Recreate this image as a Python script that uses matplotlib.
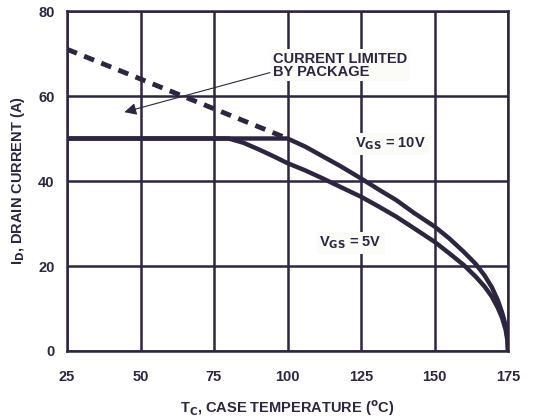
import matplotlib
matplotlib.use('Agg')
import matplotlib.pyplot as plt

# data
t_10v = [25, 50, 75, 100, 106, 112, 118, 125, 131, 137, 143, 150, 155, 160,
         164, 167, 169.5, 171.5, 173, 174.2, 174.8, 175]
i_10v = [50, 50, 50, 50, 48.1, 45.8, 43.5, 40.6, 38, 35.5, 32.5, 29.3, 26.5, 23.3,
         20.5, 17.8, 15, 12, 9, 6, 3, 0]
t_5v = [25, 50, 80, 85, 90, 95, 100, 106, 112, 118, 125, 131, 137, 143, 150, 155,
        160, 164, 167, 169.5, 171.5, 173, 174.2, 174.8, 175]
i_5v = [50, 50, 50, 49, 47.5, 45.9, 44.2, 42.5, 40.6, 38.6, 36.3, 34, 31.6, 28.9,
        25.7, 23, 20.2, 17.5, 15.2, 12.8, 10.2, 7.8, 5, 2.5, 0]
t_pkg = [25, 100]
i_pkg = [71, 50]

xticks = [25, 50, 75, 100, 125, 150, 175]
yticks = [0, 20, 40, 60, 80]

col = '#2e2540'
plt.rcParams['font.family'] = ['Liberation Sans', 'DejaVu Sans']
plt.rcParams['font.weight'] = 'bold'

fig = plt.figure(figsize=(5.55, 4.19), dpi=100)
ax = fig.add_axes([67/555, 1-351/419, 441/555, 340/419])

ax.plot(t_pkg, i_pkg, color=col, lw=3.5, dashes=(2.2, 1.6), solid_capstyle='butt')
ax.plot(t_10v, i_10v, color=col, lw=3.2, solid_capstyle='butt')
ax.plot(t_5v, i_5v, color=col, lw=3.2, solid_capstyle='butt')

ax.set_xlim(25, 175)
ax.set_ylim(0, 80)
ax.set_xticks(xticks)
ax.set_yticks(yticks)
ax.grid(True, color=col, lw=1.8)
for s in ax.spines.values():
    s.set_color(col)
    s.set_linewidth(1.8)
ax.tick_params(length=0, pad=9, labelsize=10.5, colors=col)
for lbl in ax.get_xticklabels() + ax.get_yticklabels():
    lbl.set_fontweight('bold')
ax.tick_params(axis='x', pad=14)

box = dict(facecolor='#fbfbf7', edgecolor='none', pad=2)
ax.text(95, 67.2, 'CURRENT LIMITED\nBY PACKAGE', fontsize=10.5, fontweight='bold',
        color=col, va='center', ha='left', linespacing=0.85, bbox=box)
ax.annotate('', xy=(44.5, 56.2), xytext=(94, 65.5),
            arrowprops=dict(arrowstyle='-|>', color=col, lw=0.8,
                            mutation_scale=18, shrinkA=0, shrinkB=0))
ax.text(135, 48.7, r'V$_{\mathbf{GS}}$ = 10V', fontsize=10.5, fontweight='bold',
        color=col, ha='center', va='center', bbox=box)
ax.text(121.5, 25.4, r'V$_{\mathbf{GS}}$ = 5V', fontsize=10.5, fontweight='bold',
        color=col, ha='center', va='center', bbox=box)

ax.set_xlabel(r'T$_{\mathbf{C}}$, CASE TEMPERATURE ($^{\mathbf{o}}$C)', fontsize=10.5,
              fontweight='bold', color=col, labelpad=10)
ax.set_ylabel(r'I$_{\mathbf{D}}$, DRAIN CURRENT (A)', fontsize=10.5,
              fontweight='bold', color=col, labelpad=8)

plt.savefig('out.png', dpi=100)
